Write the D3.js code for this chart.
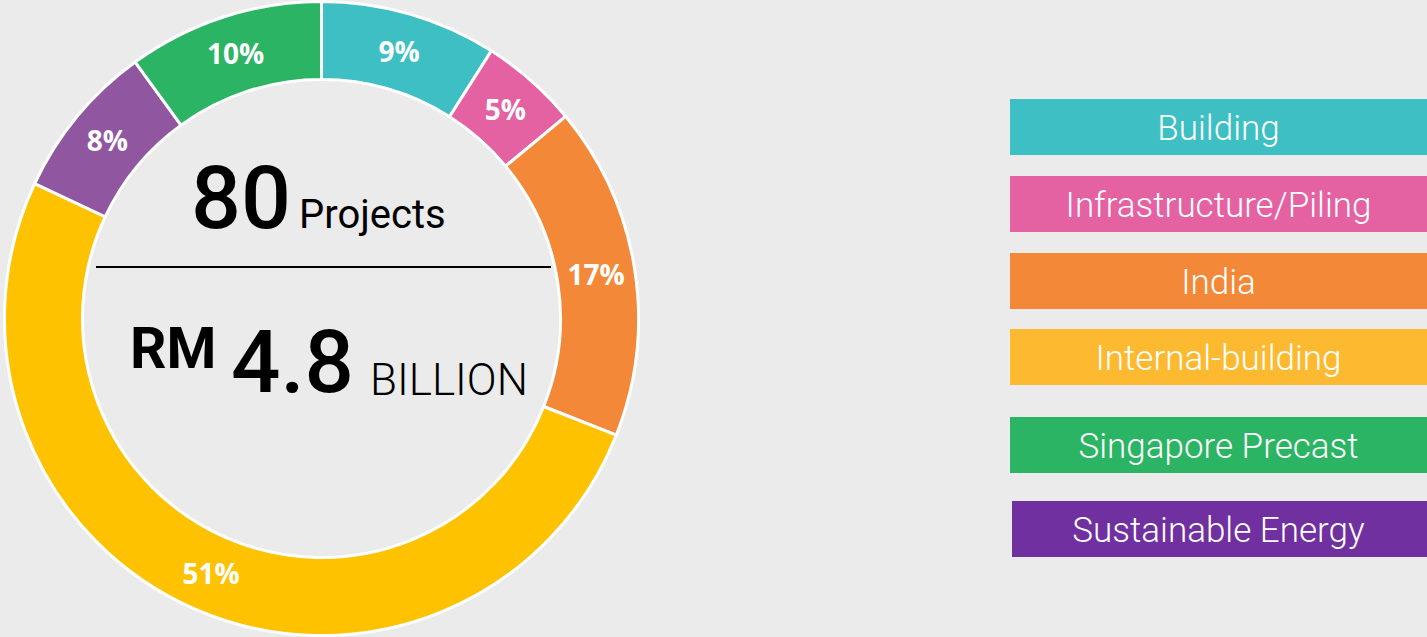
<!DOCTYPE html>
<html>
<head>
<meta charset="utf-8">
<script src="https://cdn.jsdelivr.net/npm/d3@7"></script>
<style>
  html, body { margin: 0; padding: 0; background: #ebebeb; }
  #chart { width: 1427px; height: 637px; }
  text { font-family: Roboto, "Open Sans", sans-serif; }
</style>
</head>
<body>
<div id="chart"></div>
<script>
// legend order
const categories = ["Building", "Infrastructure/Piling", "India", "Internal-building", "Singapore Precast", "Sustainable Energy"];
const shares = [9, 5, 17, 51, 10, 8];
const donutColors = ["#3dbfc3", "#e462a2", "#f38838", "#ffc200", "#2bb463", "#9057a0"];
const legendColors = ["#3dbfc3", "#e462a2", "#f38838", "#fdba30", "#2bb463", "#7030a0"];
// clockwise order of the slices, from 12 o'clock
const donutOrder = ["Building", "Infrastructure/Piling", "India", "Internal-building", "Sustainable Energy", "Singapore Precast"];

const totalProjects = "80";
const totalValue = "4.8";

const width = 1427, height = 637;
const cx = 321.5, cy = 318.5;
const outerR = 317, innerR = 239;

const svg = d3.select("#chart")
    .append("svg")
    .attr("width", width)
    .attr("height", height);

const rows = categories.map((c, i) => ({
    name: c, share: shares[i], color: donutColors[i], legend: legendColors[i]
}));
const sliceData = donutOrder.map(n => rows.find(r => r.name === n));

const pie = d3.pie().sort(null).value(d => d.share);
const arc = d3.arc().innerRadius(innerR).outerRadius(outerR);

const g = svg.append("g")
    .attr("transform", `translate(${cx},${cy})`);

g.selectAll("path")
    .data(pie(sliceData))
    .join("path")
    .attr("d", arc)
    .attr("fill", d => d.data.color)
    .attr("stroke", "#fff")
    .attr("stroke-width", 3);

// percentage labels at the arc centroids
g.selectAll("text.pct")
    .data(pie(sliceData))
    .join("text")
    .attr("class", "pct")
    .attr("transform", d => `translate(${arc.centroid(d)})`)
    .attr("text-anchor", "middle")
    .attr("dy", "0.36em")
    .style("font-family", "'Open Sans', sans-serif")
    .style("font-weight", 700)
    .style("font-size", "28px")
    .attr("fill", "#fff")
    .text(d => d.data.share + "%");

// centre text
const projText = g.append("text")
    .attr("y", 228 - cy)
    .attr("fill", "#000");
projText.append("tspan")
    .attr("x", 191 - cx)
    .style("font-size", "88px")
    .style("font-weight", 500)
    .text(totalProjects);
projText.append("tspan")
    .attr("dx", 8)
    .style("font-size", "40px")
    .style("font-weight", 400)
    .text("Projects");

g.append("line")
    .attr("x1", 96 - cx).attr("x2", 551 - cx)
    .attr("y1", 267 - cy).attr("y2", 267 - cy)
    .attr("stroke", "#000")
    .attr("stroke-width", 2);

g.append("text")
    .attr("x", 130 - cx)
    .attr("y", 368 - cy)
    .style("font-size", "57px")
    .style("font-weight", 700)
    .text("RM");
g.append("text")
    .attr("x", 231 - cx)
    .attr("y", 392 - cy)
    .style("font-size", "87px")
    .style("font-weight", 500)
    .text(totalValue);
g.append("text")
    .attr("x", 370 - cx)
    .attr("y", 395 - cy)
    .style("font-size", "44px")
    .style("font-weight", 300)
    .text("BILLION");

// legend
const legendTop = d3.scaleOrdinal()
    .domain(categories)
    .range([99, 176, 253, 329, 417, 501]);
const legendH = 56, legendX = 1010;

const leg = svg.append("g").attr("class", "legend");
const item = leg.selectAll("g")
    .data(rows)
    .join("g")
    .attr("transform", d => `translate(${legendX},${legendTop(d.name)})`);

item.append("rect")
    .attr("x", (d, i) => i === 5 ? 2 : 0)
    .attr("width", (d, i) => width - legendX - (i === 5 ? 2 : 0))
    .attr("height", legendH)
    .attr("fill", d => d.legend);

item.append("text")
    .attr("x", (width - legendX) / 2)
    .attr("y", legendH / 2 + 12.5)
    .attr("text-anchor", "middle")
    .attr("fill", "#fff")
    .style("font-size", "35px")
    .style("font-weight", 300)
    .text(d => d.name);
</script>
</body>
</html>
